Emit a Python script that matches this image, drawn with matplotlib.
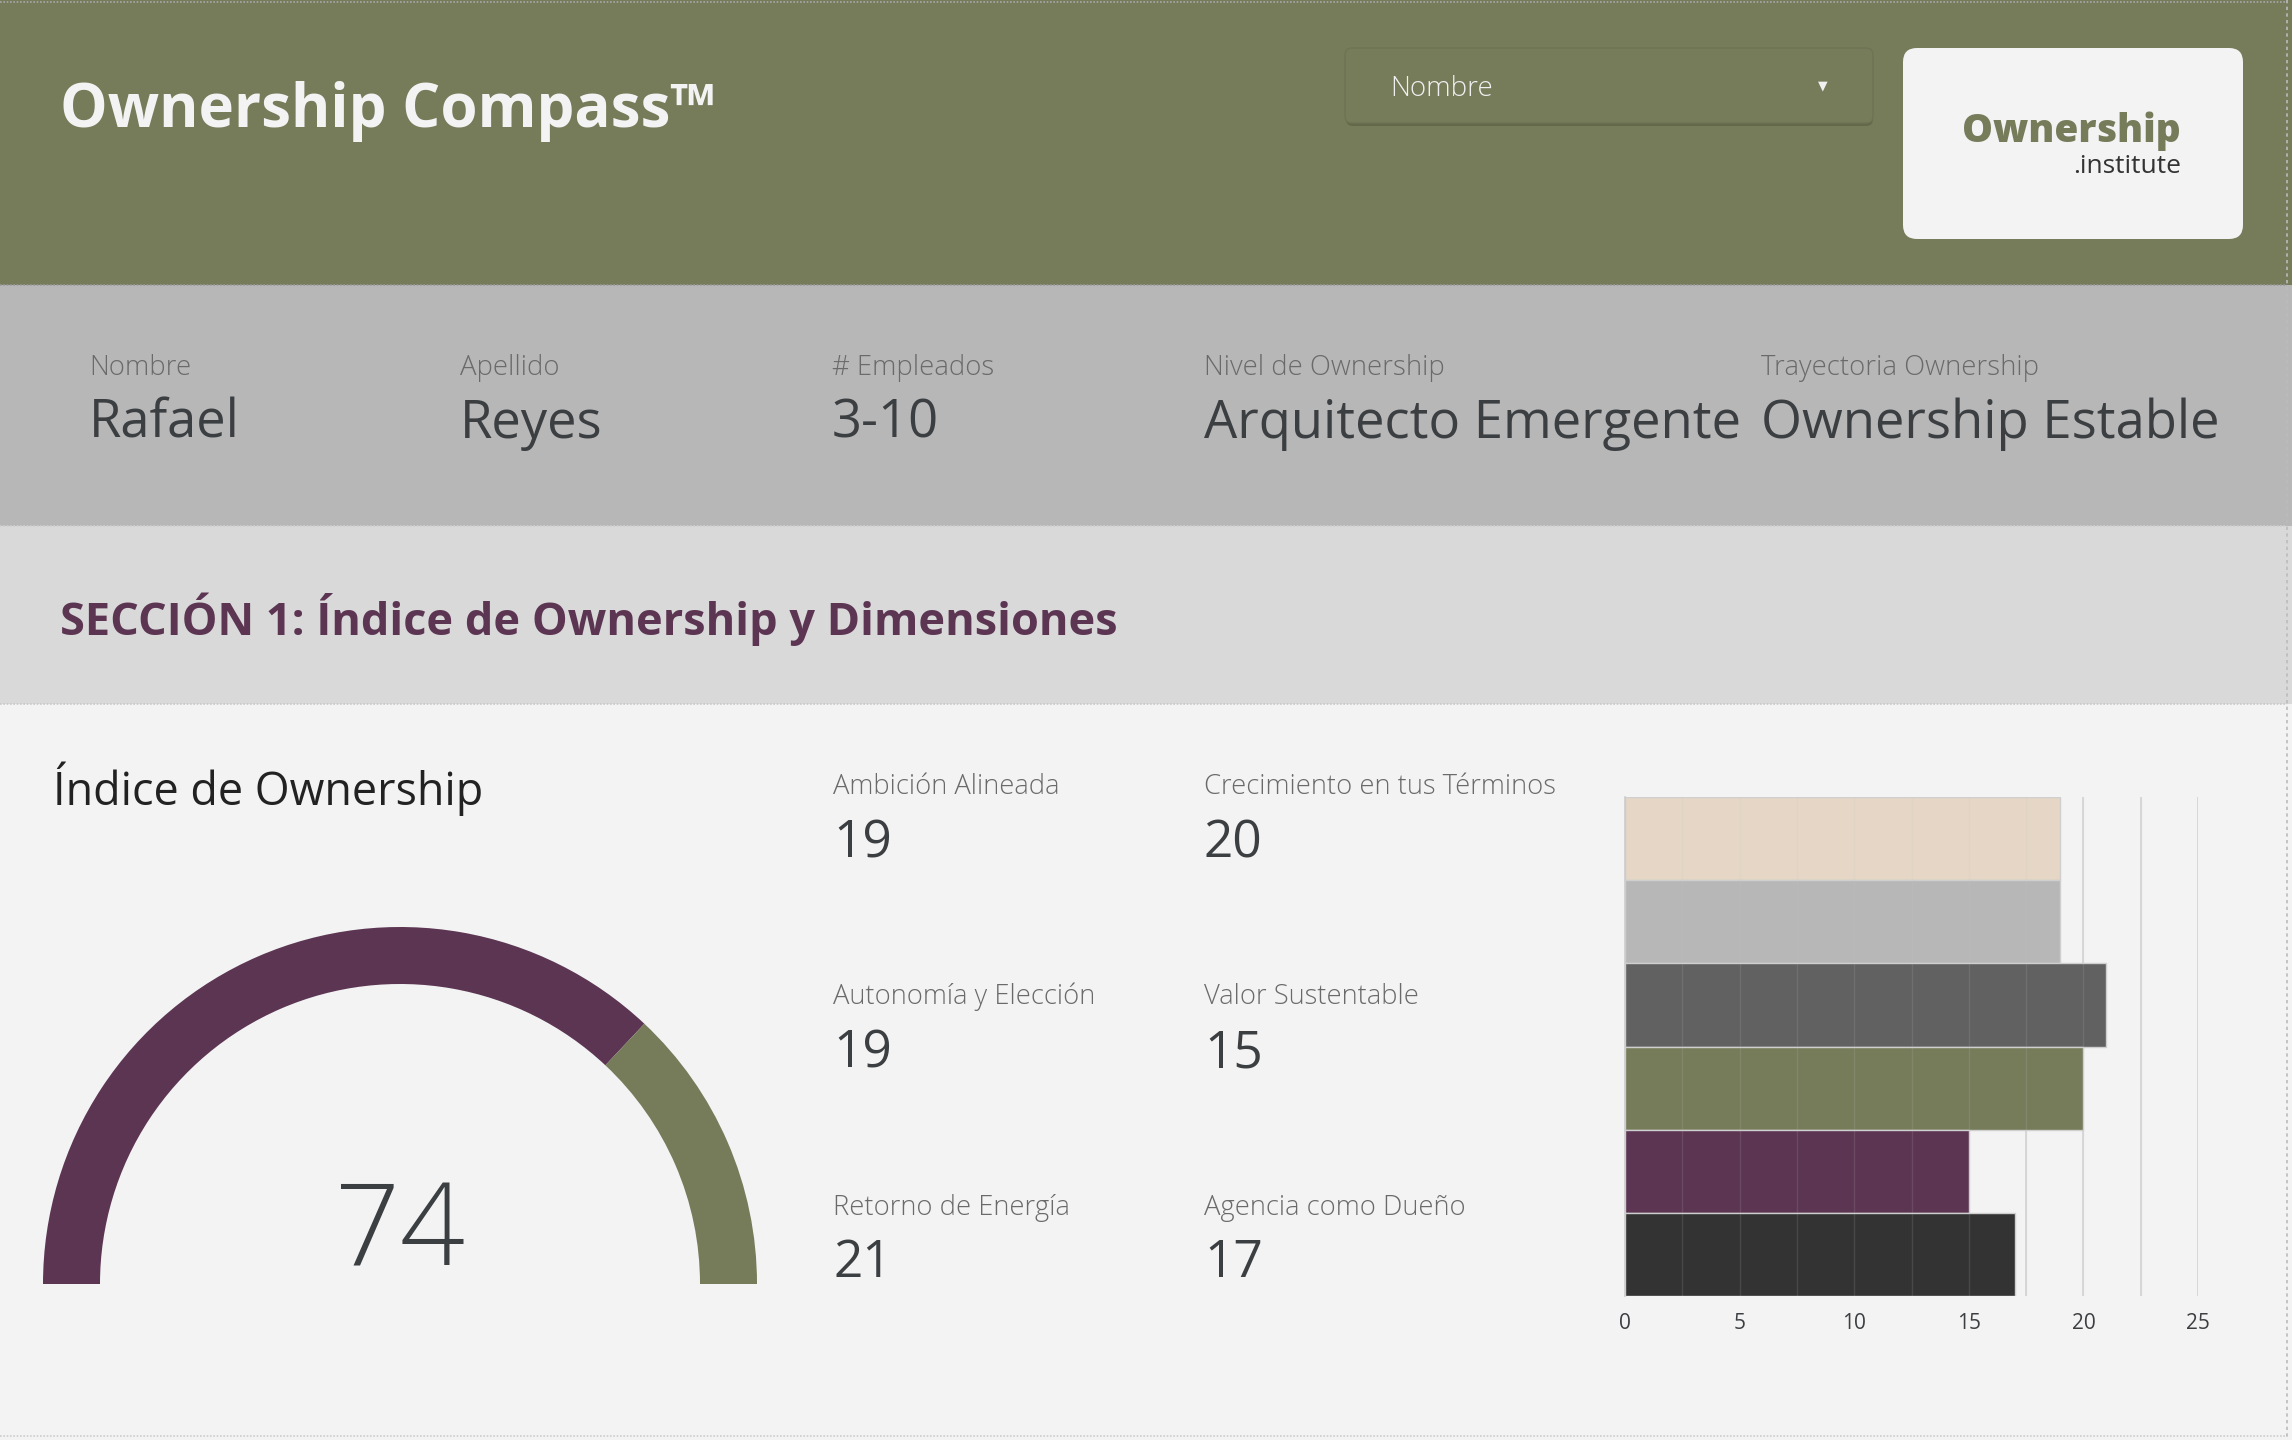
import numpy as np
import matplotlib
matplotlib.use("Agg")
import matplotlib.pyplot as plt
from matplotlib.patches import Rectangle, FancyBboxPatch

# ---------------- data ----------------
title = "Ownership Compass™"
dropdown_label = "Nombre"
logo_main = "Ownership"
logo_sub = ".institute"

info_labels = ["Nombre", "Apellido", "# Empleados", "Nivel de Ownership", "Trayectoria Ownership"]
info_values = ["Rafael", "Reyes", "3-10", "Arquitecto Emergente", "Ownership Estable"]

section_title = "SECCIÓN 1: Índice de Ownership y Dimensiones"
gauge_title = "Índice de Ownership"
gauge_value = 74
gauge_max = 100

dimensions = ["Ambición Alineada", "Autonomía y Elección", "Retorno de Energía",
              "Crecimiento en tus Términos", "Valor Sustentable", "Agencia como Dueño"]
scores = [19, 19, 21, 20, 15, 17]
bar_colors = ["#E5D6C5", "#B7B7B7", "#616161", "#767B5A", "#5C3553", "#333333"]
x_ticks = [0, 5, 10, 15, 20, 25]

# ---------------- style ----------------
plt.rcParams['font.family'] = ['Open Sans', 'DejaVu Sans']
OLIVE = "#767B5A"
PURPLE = "#5C3553"
DARK = "#3C3F42"
LABEL = "#6A6A6A"

W, H = 2292, 1440
fig = plt.figure(figsize=(W / 100, H / 100), dpi=100)
fig.patch.set_facecolor("#F3F3F3")

bg = fig.add_axes([0, 0, 1, 1])
bg.set_xlim(0, W)
bg.set_ylim(H, 0)
bg.axis("off")

# bands
bg.add_patch(Rectangle((0, 0), W, 285, fc=OLIVE, ec="none", zorder=0))
bg.add_patch(Rectangle((0, 285), W, 241, fc="#B7B7B7", ec="none", zorder=0))
bg.add_patch(Rectangle((0, 526), W, 178, fc="#D9D9D9", ec="none", zorder=0))
bg.add_patch(Rectangle((0, 704), W, 736, fc="#F3F3F3", ec="none", zorder=0))

# dotted separators
for yy, c in [(2, "#A8A8A8"), (285, "#9A9A9A"), (526, "#CFCFCF"), (704, "#C8C8C8"), (1436, "#CCCCCC")]:
    bg.plot([0, 2287], [yy, yy], color=c, lw=1.2, ls=(0, (1, 1)), zorder=1)
bg.plot([2287, 2287], [0, 1440], color="#BBBBBB", lw=1.2, ls=(0, (2, 2)), zorder=1)

# header title
bg.text(60, 127, title, fontsize=43.2, fontweight="bold", color="#F3F3F3", va="baseline", ha="left", zorder=3)

# dropdown
bg.add_patch(FancyBboxPatch((1346, 51), 527, 75, boxstyle="round,pad=0,rounding_size=7",
                            fc="#55593F", ec="none", alpha=0.55, zorder=1))
bg.add_patch(FancyBboxPatch((1345, 48), 528, 75, boxstyle="round,pad=0,rounding_size=7",
                            fc=OLIVE, ec="#6E7353", lw=1, zorder=2))
bg.text(1390, 96, dropdown_label, fontsize=20, fontweight=300, color="#F0F0F0", va="baseline", ha="left", zorder=3)
bg.text(1823, 86, "▼", fontsize=9, color="#F0F0F0", va="center", ha="center",
        family=["DejaVu Sans"], zorder=3)

# logo box
bg.add_patch(FancyBboxPatch((1903, 48), 340, 191, boxstyle="round,pad=0,rounding_size=14",
                            fc="#F3F3F3", ec="none", zorder=2))
bg.text(2181, 142, logo_main, fontsize=28, fontweight="heavy", color=OLIVE, va="baseline", ha="right", zorder=3)
bg.text(2181, 173, logo_sub, fontsize=19, color="#333333", va="baseline", ha="right", zorder=3)

# info band
info_x = [89, 460, 832, 1204, 1761]
for x, lab, val in zip(info_x, info_labels, info_values):
    bg.text(x, 375, lab, fontsize=19.8, fontweight=300, color=LABEL, va="baseline", ha="left", zorder=3)
    bg.text(x, 438, val, fontsize=37.9, color=DARK, va="baseline", ha="left", zorder=3)

# section title
bg.text(60, 635, section_title, fontsize=32.5, fontweight="bold", color=PURPLE, va="baseline", ha="left", zorder=3)

# gauge title
bg.text(53, 805, gauge_title, fontsize=32.3, color="#222222", va="baseline", ha="left", zorder=3)

# KPI tiles
col_x = [833, 1204]
label_y = [794, 1004, 1215]
value_y = [857, 1067, 1277]
for i, (name, v) in enumerate(zip(dimensions, scores)):
    c, r = i // 3, i % 3
    bg.text(col_x[c], label_y[r], name, fontsize=19.7, fontweight=300, color=LABEL, va="baseline", ha="left", zorder=3)
    bg.text(col_x[c], value_y[r], str(v), fontsize=37, color=DARK, va="baseline", ha="left", zorder=3)

# ---------------- gauge ----------------
R = 357.0
gx = fig.add_axes([20 / W, 136 / H, 760 / W, 400 / H])
gx.pie([gauge_value, gauge_max - gauge_value, gauge_max],
       colors=[PURPLE, OLIVE, "none"], startangle=180, counterclock=False,
       radius=1.0, wedgeprops=dict(width=57 / R, edgecolor="none", linewidth=0))
gx.set_xlim(-380 / R, 380 / R)
gx.set_ylim(-20 / R, 380 / R)
gx.set_aspect("equal")
gx.axis("off")

bg.text(400, 1265, str(gauge_value), fontsize=82, fontweight=300, color=DARK, va="baseline", ha="center", zorder=3)

# ---------------- bar chart ----------------
bx = fig.add_axes([1625 / W, (H - 1296) / H, 573 / W, 499 / H])
bx.set_facecolor("none")
ypos = np.arange(len(scores))
bx.barh(ypos, scores, height=1.0, color=bar_colors, edgecolor="#CFCFCF", linewidth=1, zorder=2)
bx.set_xlim(0, 25)
bx.set_ylim(len(scores) - 0.5, -0.5)
bx.set_xticks(x_ticks)
bx.set_xticklabels([str(t) for t in x_ticks])
minor = np.arange(0, 25.01, 2.5)
bx.set_xticks(minor, minor=True)
bx.set_axisbelow(True)
bx.grid(axis="x", which="both", color="#D3D3D3", lw=1.2, zorder=0)
bx.vlines(minor[1:], -0.5, len(scores) - 0.5, color="#C8C8C8", lw=1.0, alpha=0.14, zorder=3)
bx.set_yticks([])
bx.tick_params(axis="x", which="both", length=0, labelsize=15, labelcolor=DARK, pad=12)
for s in ["top", "right", "bottom"]:
    bx.spines[s].set_visible(False)
bx.spines["left"].set_color("#CCCCCC")
bx.spines["left"].set_linewidth(1.2)

fig.savefig("out.png", dpi=100, facecolor=fig.get_facecolor())
